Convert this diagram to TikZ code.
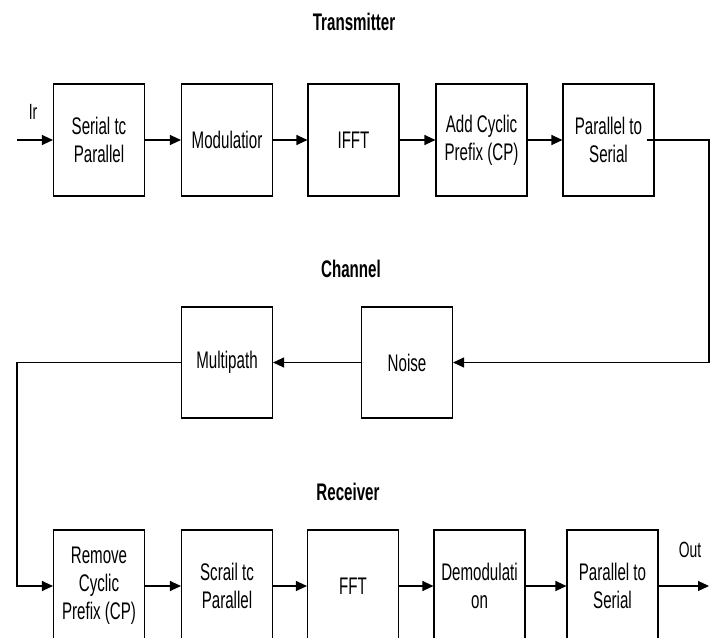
\documentclass[tikz,border=0pt]{standalone}
\usepackage{fontspec}
\setmainfont{Liberation Sans}[FakeStretch=0.63]
\usetikzlibrary{arrows.meta}
\begin{document}
\begin{tikzpicture}[x=1pt,y=-1pt,
  blk/.style={draw,line width=1.1pt,minimum width=91pt,minimum height=112pt,inner sep=1pt,align=center,font=\fontsize{24}{28}\selectfont},
  ttl/.style={font=\fontsize{24}{28}\selectfont\bfseries},
  lbl/.style={font=\fontsize{22}{26}\selectfont},
  conn/.style={line width=1.1pt,-{Triangle[length=11pt,width=10pt]}},
  wire/.style={line width=1.1pt}]
\clip (0,0) rectangle (714,637);
\fill[white] (0,0) rectangle (714,637);
% titles
\node[ttl] (ttx) at (354,22) {Transmitter};
\node[ttl] (tch) at (351,269) {Channel};
\node[ttl] (trx) at (348,492) {Receiver};
% transmitter
\node[blk] (t1) at (99,140) {Serial tc\\Parallel};
\node[blk] (t2) at (227,140) {Modulatior};
\node[blk] (t3) at (353.5,140) {IFFT};
\node[blk] (t4) at (481.5,140) {Add Cyclic\\Prefix (CP)};
\node[blk] (t5) at (608.5,140) {Parallel to\\Serial};
% channel
\node[blk,minimum height=111pt] (ch2) at (227,362.5) {Multipath};
\node[blk,minimum height=111pt] (ch1) at (407,362.5) {Noise};
% receiver
\node[blk] (r1) at (99,586) {Remove\\Cyclic\\Prefix (CP)};
\node[blk] (r2) at (227,586) {Scrail tc\\Parallel};
\node[blk] (r3) at (353,586) {FFT};
\node[blk] (r4) at (479.5,586) {Demodulati\\on};
\node[blk] (r5) at (612.5,586) {Parallel to\\Serial};
% in / out
\coordinate (inp) at (17,140);
\node[lbl] (lin) at (33,112) {Ir};
\coordinate (outp) at (709,586);
\node[lbl] (lout) at (690,550) {Out};
\coordinate (rc) at (709,140);
\coordinate (lc) at (17,362.5);
% connectors
\draw[conn] (inp) -- (t1.west);
\draw[conn] (t1) -- (t2);
\draw[conn] (t2) -- (t3);
\draw[conn] (t3) -- (t4);
\draw[conn] (t4) -- (t5);
\draw[conn] ([xshift=-8pt]t5.east) -- (rc) |- (ch1.east);
\draw[conn] (ch1) -- (ch2);
\draw[conn] (ch2.west) -- (lc) |- (r1.west);
\draw[conn] (r1) -- (r2);
\draw[conn] (r2) -- (r3);
\draw[conn] (r3) -- (r4);
\draw[conn] (r4) -- (r5);
\draw[conn] (r5.east) -- (outp);
\end{tikzpicture}
\end{document}
